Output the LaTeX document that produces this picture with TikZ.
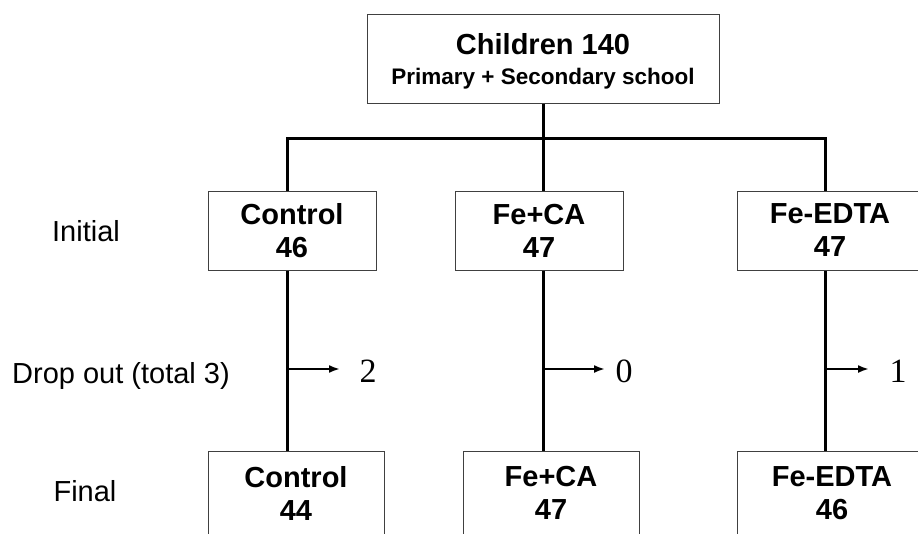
\documentclass[tikz,border=0pt]{standalone}
\usepackage{fontspec}
\setmainfont{Liberation Sans}
\newfontfamily\numfont{Liberation Serif}
\usetikzlibrary{arrows.meta}
\tikzset{
  grpbox/.style={draw=black!75,line width=1pt,fill=white,align=center,inner sep=0pt,minimum height=79pt,font=\fontsize{29}{33}\selectfont\bfseries},
  link/.style={line width=3pt},
  drop/.style={line width=2pt,-{Latex[length=11pt,width=8pt]}},
  rowlbl/.style={anchor=base,inner sep=0pt,font=\fontsize{29}{33}\selectfont},
  numlbl/.style={anchor=base,inner sep=0pt,font=\numfont\fontsize{34}{34}\selectfont},
}
\begin{document}
\begin{tikzpicture}[x=1pt,y=-1pt]
\useasboundingbox (0,0) rectangle (918,533);
\clip (0,0) rectangle (918,533);
\node[grpbox,text depth=0pt,minimum width=352pt,minimum height=89pt,font=\fontsize{29}{30}\selectfont\bfseries] (root) at (543,58.5) {Children 140\\{\fontsize{22.5}{30}\selectfont Primary + Secondary school}};
% groups at start
\node[grpbox,minimum width=168pt] (ini-c) at (292,230.5) {Control\\46};
\node[grpbox,minimum width=168pt] (ini-f) at (539,230.5) {Fe+CA\\47};
\node[grpbox,minimum width=186pt] (ini-e) at (830,230.5) {Fe-EDTA\\47};
% groups at end
\node[grpbox,minimum width=176pt,minimum height=84pt] (fin-c) at (296,493) {Control\\44};
\node[grpbox,minimum width=176pt,minimum height=84pt] (fin-f) at (551,493) {Fe+CA\\47};
\node[grpbox,minimum width=190pt,minimum height=84pt] (fin-e) at (832,493) {Fe-EDTA\\46};
% row labels
\node[rowlbl] (lbl-ini) at (86,241) {Initial};
\node[rowlbl] (lbl-drop) at (121,383) {Drop out (total 3)};
\node[rowlbl] (lbl-fin) at (85,501) {Final};
% tree
\foreach \k/\bx in {c/287,f/543,e/825}{\coordinate (bus-\k) at (\bx,138);}
\draw[link] (root.south) -- (bus-f);
\draw[link] (bus-c |- ini-c.north) -- (bus-c) -- (bus-e) -- (bus-e |- ini-e.north);
\draw[link] (bus-f) -- (bus-f |- ini-f.north);
\foreach \k/\ax/\lx/\n in {c/340/368/2,f/605/624/0,e/869/898/1}{
\coordinate (tip-\k) at (\ax,369);
\coordinate (dr-\k) at (bus-\k |- tip-\k);
\draw[link] (bus-\k |- ini-\k.south) -- (bus-\k |- fin-\k.north);
\draw[drop] (dr-\k) -- (tip-\k);
\node[numlbl] (out-\k) at (\lx,382) {\n};
}
\end{tikzpicture}
\end{document}
